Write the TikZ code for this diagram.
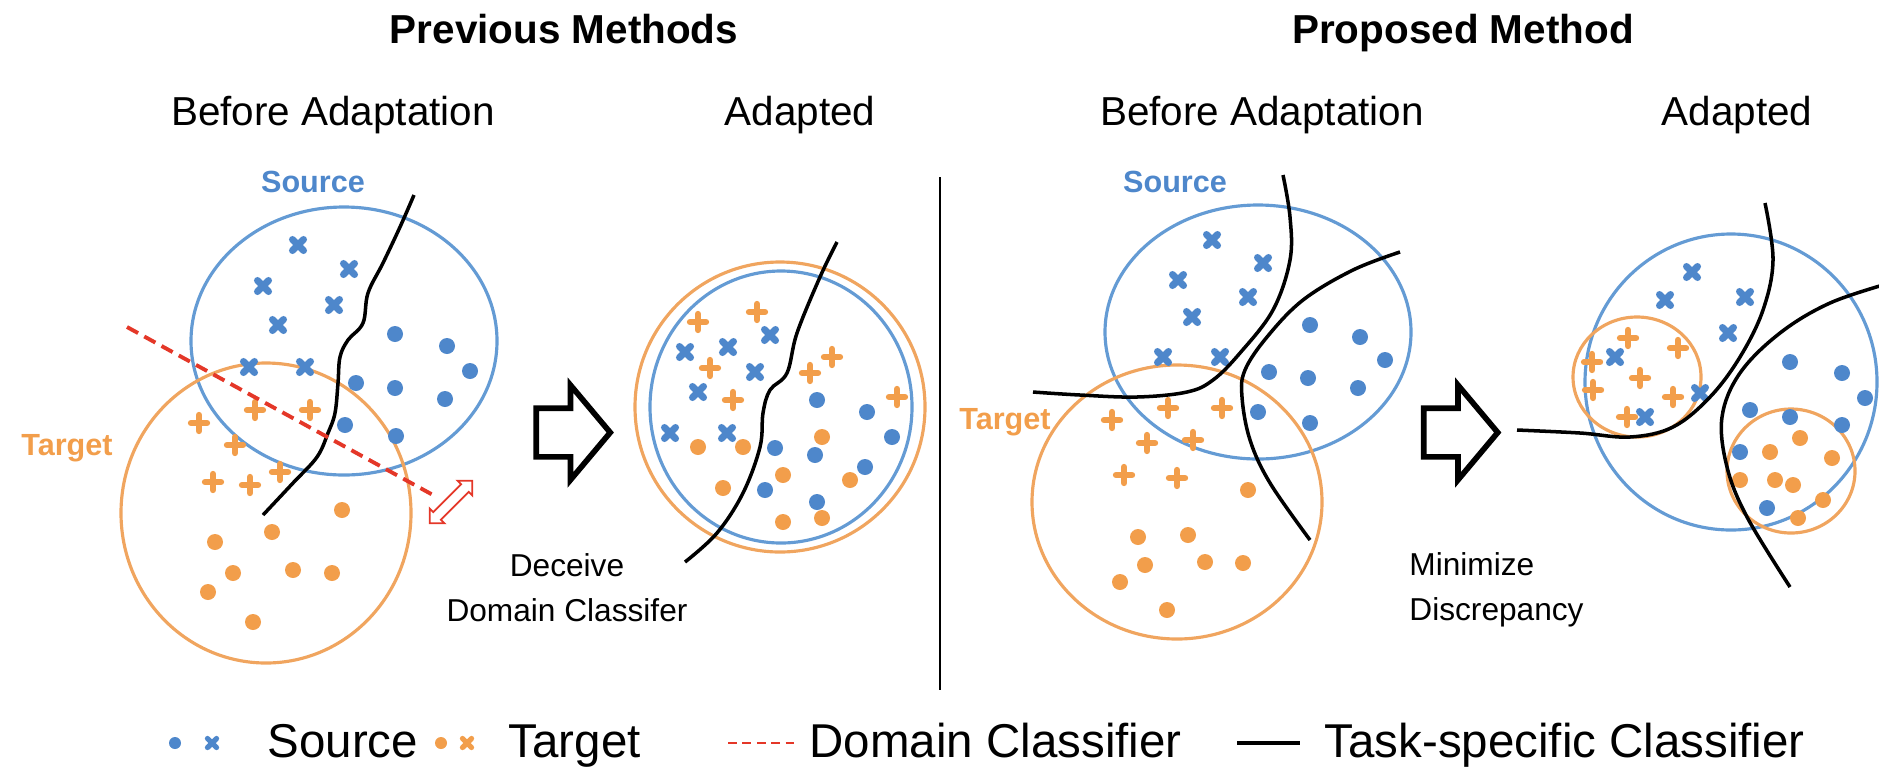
\documentclass[tikz,border=0pt]{standalone}
\usepackage{fontspec}
\setmainfont{Liberation Sans}
\usetikzlibrary{shapes.arrows}
\definecolor{srcblue}{RGB}{78,135,203}
\definecolor{ringblue}{RGB}{100,155,212}
\definecolor{tgtorange}{RGB}{242,158,75}
\definecolor{ringorange}{RGB}{240,165,95}
\definecolor{dred}{RGB}{228,55,40}
\tikzset{srcx/.style={draw=srcblue, line width=2pt, line cap=round}}
\tikzset{tgtp/.style={draw=tgtorange, line width=1.8pt, line cap=round}}

\begin{document}
\begin{tikzpicture}[
  x=0.01cm, y=-0.01cm,
  head/.style={font=\fontsize{11.5}{13}\selectfont\bfseries, anchor=base},
  phase/.style={font=\fontsize{11.5}{13}\selectfont, anchor=base},
  domlbl/.style={font=\fontsize{8.7}{10}\selectfont\bfseries},
  note/.style={font=\fontsize{9}{12.8}\selectfont},
  legtxt/.style={font=\fontsize{13.5}{16}\selectfont, anchor=base west, inner sep=0pt},
  srcring/.style={draw=ringblue, line width=0.9pt},
  tgtring/.style={draw=ringorange, line width=0.9pt},
  bound/.style={line width=1pt, black},
  domline/.style={draw=dred, line width=1.1pt, dash pattern=on 3.6pt off 2pt},
  bigarrow/.style={single arrow, draw, fill=white, line width=1.6pt,
                   minimum height=0.74cm, inner xsep=0.1cm, inner ysep=0.215cm,
                   single arrow head extend=0.23cm, single arrow tip angle=100},
  gaparrow/.style={double arrow, draw=dred, fill=white, line width=0.5pt,
                   minimum height=0.6cm, inner xsep=0.02cm, inner ysep=0.045cm,
                   double arrow head extend=0.05cm, double arrow tip angle=90},
]
  \useasboundingbox (0,0) rectangle (1879,769);

  % headings
  \node[head] (prevhead) at (564,43) {Previous Methods};
  \node[head] (prophead) at (1463,43) {Proposed Method};
  \node[phase] (prevbefore) at (333,125) {Before Adaptation};
  \node[phase] (prevafter) at (800,125) {Adapted};
  \node[phase] (propbefore) at (1262,125) {Before Adaptation};
  \node[phase] (propafter) at (1737,125) {Adapted};

  \draw[line width=0.6pt] (940,177) -- (940,690);

  % previous methods, before adaptation
  \draw[srcring] (344,341) ellipse[x radius=153, y radius=134];
  \draw[tgtring] (266,513) ellipse[x radius=145, y radius=150];
  \node[domlbl, text=srcblue] (src1) at (313,182) {Source};
  \node[domlbl, text=tgtorange] (tgt1) at (67,448) {Target};
  \foreach \x/\y in {298/245, 349/269, 263/286, 334/305, 278/325, 249/367, 305/367}
    \draw[srcx] (\x,\y) +(-5.5,-5.5) -- +(5.5,5.5) +(-5.5,5.5) -- +(5.5,-5.5);
  \foreach \x/\y in {395/334, 447/346, 470/371, 356/383, 395/388, 445/399, 345/425, 396/436}
    \fill[srcblue] (\x,\y) circle[radius=8];
  \foreach \x/\y in {199/423, 255/410, 310/410, 235/445, 213/482, 250/485, 280/472}
    \draw[tgtp] (\x,\y) +(-8,0) -- +(8,0) +(0,-8) -- +(0,8);
  \foreach \x/\y in {342/510, 272/532, 215/542, 233/573, 293/570, 332/573, 208/592, 253/622}
    \fill[tgtorange] (\x,\y) circle[radius=8];
  \draw[bound] plot[smooth, tension=0.6] coordinates {(414,195) (400,227) (383,263)
    (368,293) (363,323) (348,340) (340,357) (338,383) (335,413) (328,433) (317,457)
    (293,483) (263,515)};
  \draw[domline] (127,327) -- (433,495);
  \node[gaparrow, rotate=45] (gap) at (451,502) {};

  \node[bigarrow] (prevstep) at (563,432.5) {};
  \node[note, align=center] (deceive) at (567,588) {Deceive\\Domain Classifer};

  % previous methods, adapted
  \draw[tgtring] (780,407) circle[radius=145];
  \draw[srcring] (781,407) ellipse[x radius=131, y radius=136];
  \foreach \x/\y in {685/352, 728/347, 770/335, 755/372, 698/392, 670/433, 727/433}
    \draw[srcx] (\x,\y) +(-5.5,-5.5) -- +(5.5,5.5) +(-5.5,5.5) -- +(5.5,-5.5);
  \foreach \x/\y in {698/322, 757/312, 710/368, 733/400, 810/373, 832/357, 897/397}
    \draw[tgtp] (\x,\y) +(-8,0) -- +(8,0) +(0,-8) -- +(0,8);
  \foreach \x/\y in {817/400, 867/412, 892/437, 775/448, 815/455, 865/467, 765/490, 817/502}
    \fill[srcblue] (\x,\y) circle[radius=8];
  \foreach \x/\y in {698/447, 743/447, 822/437, 783/475, 850/480, 723/488, 783/522, 822/518}
    \fill[tgtorange] (\x,\y) circle[radius=8];
  \draw[bound] plot[smooth, tension=0.6] coordinates {(837,242) (820,277) (797,333)
    (787,373) (770,390) (763,413) (760,447) (743,493) (717,533) (685,562)};

  % proposed method, before adaptation
  \draw[srcring] (1258,332) ellipse[x radius=153, y radius=127];
  \draw[tgtring] (1177,502) ellipse[x radius=145, y radius=137];
  \node[domlbl, text=srcblue] (src2) at (1175,182) {Source};
  \node[domlbl, text=tgtorange] (tgt2) at (1005,422) {Target};
  \foreach \x/\y in {1212/240, 1263/263, 1178/280, 1248/297, 1192/317, 1163/357, 1220/357}
    \draw[srcx] (\x,\y) +(-5.5,-5.5) -- +(5.5,5.5) +(-5.5,5.5) -- +(5.5,-5.5);
  \foreach \x/\y in {1310/325, 1360/337, 1385/360, 1269/372, 1308/378, 1358/388, 1258/412, 1310/423}
    \fill[srcblue] (\x,\y) circle[radius=8];
  \foreach \x/\y in {1112/420, 1168/408, 1222/408, 1147/443, 1193/440, 1124/475, 1177/478}
    \draw[tgtp] (\x,\y) +(-8,0) -- +(8,0) +(0,-8) -- +(0,8);
  \foreach \x/\y in {1248/490, 1138/537, 1188/535, 1145/565, 1205/562, 1243/563, 1120/582, 1167/610}
    \fill[tgtorange] (\x,\y) circle[radius=8];
  \draw[bound] plot[smooth, tension=0.6] coordinates {(1283,175) (1290,217) (1290,260)
    (1273,310) (1240,353) (1213,380) (1187,392) (1137,397) (1080,395) (1033,392)};
  \draw[bound] plot[smooth, tension=0.6] coordinates {(1400,252) (1353,270) (1303,300)
    (1267,337) (1245,370) (1242,397) (1250,440) (1270,483) (1310,540)};

  \node[bigarrow] (propstep) at (1450.5,432.5) {};
  \node[note, align=left, anchor=west] (minimize) at (1397,590) {Minimize\\Discrepancy};

  % proposed method, adapted
  \draw[srcring] (1731,382) ellipse[x radius=146, y radius=148];
  \draw[tgtring] (1637,377) ellipse[x radius=64, y radius=60];
  \draw[tgtring] (1791,471) ellipse[x radius=64, y radius=62];
  \foreach \x/\y in {1692/272, 1665/300, 1745/297, 1728/333, 1615/357, 1700/393, 1645/417}
    \draw[srcx] (\x,\y) +(-5.5,-5.5) -- +(5.5,5.5) +(-5.5,5.5) -- +(5.5,-5.5);
  \foreach \x/\y in {1628/338, 1592/362, 1678/348, 1640/378, 1593/390, 1673/397, 1627/417}
    \draw[tgtp] (\x,\y) +(-8,0) -- +(8,0) +(0,-8) -- +(0,8);
  \foreach \x/\y in {1790/362, 1842/373, 1865/398, 1750/410, 1790/417, 1842/425, 1740/452, 1767/508}
    \fill[srcblue] (\x,\y) circle[radius=8];
  \foreach \x/\y in {1800/438, 1770/452, 1832/458, 1740/480, 1775/480, 1793/485, 1823/500, 1798/518}
    \fill[tgtorange] (\x,\y) circle[radius=8];
  \draw[bound] plot[smooth, tension=0.6] coordinates {(1517,430) (1580,433) (1630,437)
    (1673,427) (1710,397) (1740,357) (1763,310) (1773,260) (1765,203)};
  \draw[bound] plot[smooth, tension=0.6] coordinates {(1890,283) (1830,303) (1780,333)
    (1740,373) (1722,417) (1727,467) (1747,517) (1790,587)};

  % legend
  \fill[srcblue] (175,743) circle[radius=6];
  \draw[srcx, line width=1.5pt] (212,743) +(-4.5,-4.5) -- +(4.5,4.5) +(-4.5,4.5) -- +(4.5,-4.5);
  \node[legtxt] (legsrc) at (267,757) {Source};
  \fill[tgtorange] (441,743) circle[radius=6];
  \draw[srcx, draw=tgtorange, line width=1.5pt] (467,743) +(-4.5,-4.5) -- +(4.5,4.5) +(-4.5,4.5) -- +(4.5,-4.5);
  \node[legtxt] (legtgt) at (508,757) {Target};
  \draw[domline, line width=0.8pt, dash pattern=on 2.5pt off 1.6pt] (728,743) -- (794,743);
  \node[legtxt] (legdom) at (809,757) {Domain Classifier};
  \draw[bound] (1237,743) -- (1300,743);
  \node[legtxt] (legtask) at (1324,757) {Task-specific Classifier};
\end{tikzpicture}
\end{document}
